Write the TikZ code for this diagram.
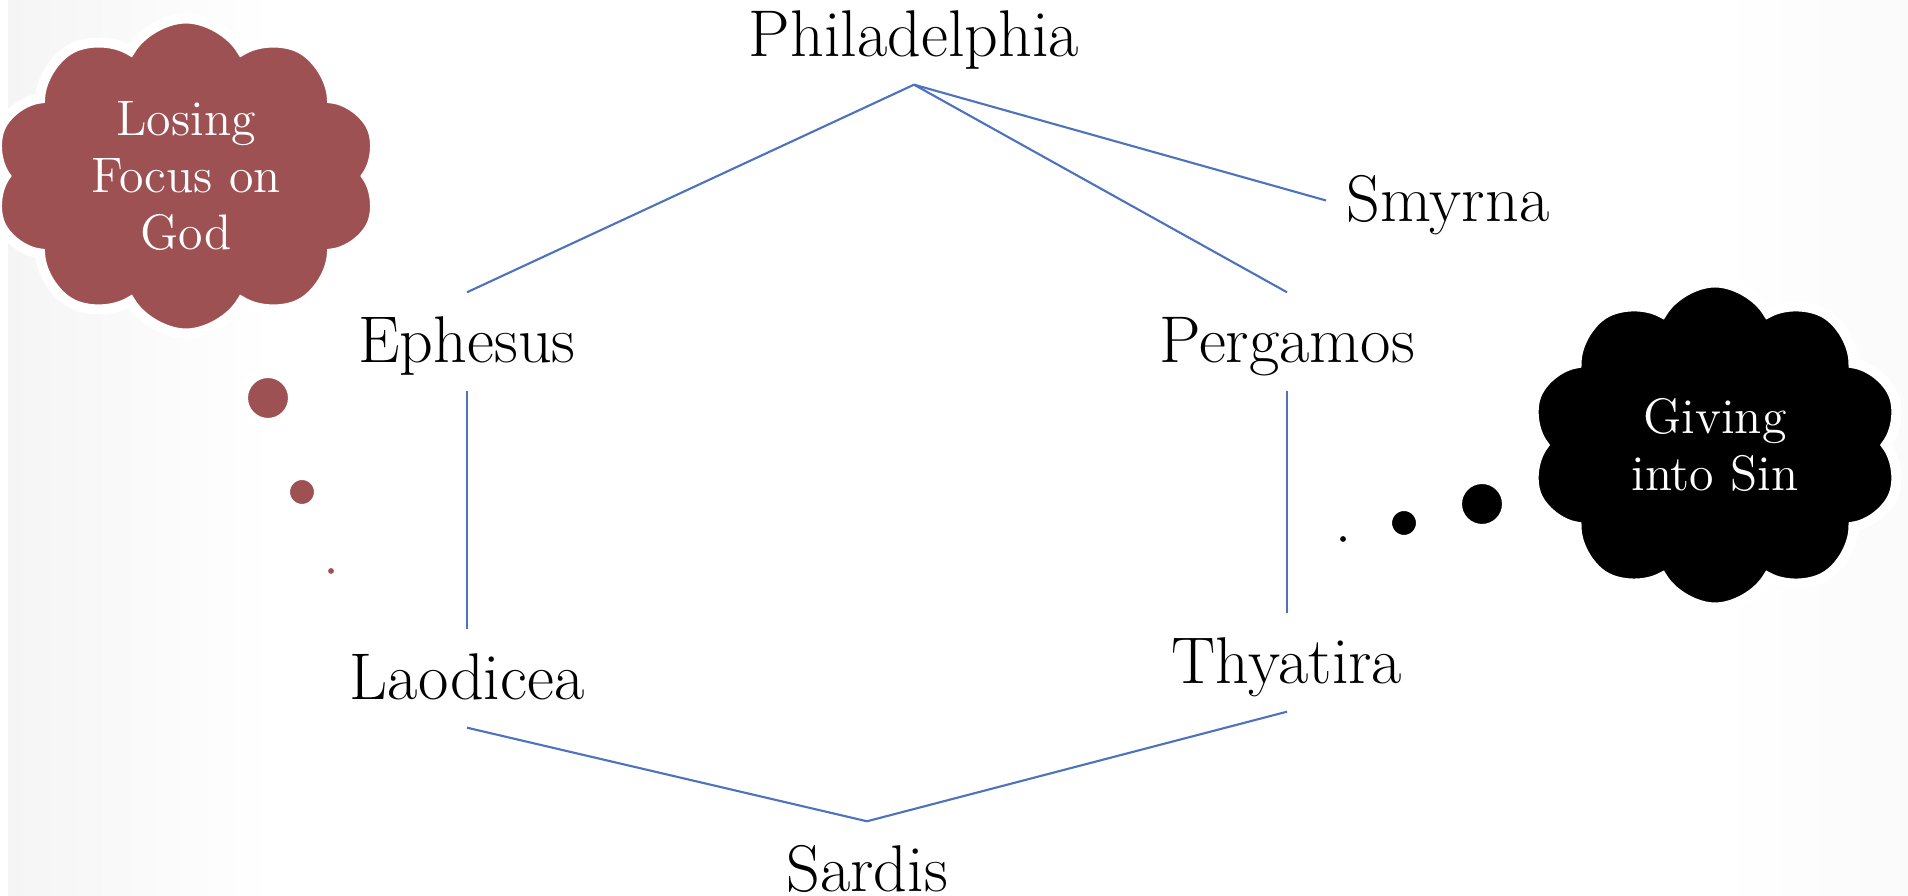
\documentclass[tikz,border=0pt]{standalone}
\usepackage{tikz}
\usetikzlibrary{positioning,shapes.symbols}
\definecolor{linkblue}{RGB}{78,114,190}
\definecolor{wine}{RGB}{158,81,83}
\pgfdeclarehorizontalshading{slide}{100bp}{color(0bp)=(black!18); color(32bp)=(white); color(70bp)=(white); color(100bp)=(black!11)}
\tikzstyle{city} = [font=\fontsize{18.8}{22}\selectfont, text height=0.5cm, text depth=0.07cm, inner ysep=0.2cm, inner xsep=0.2cm]
\tikzstyle{link} = [draw=linkblue, line width=0.6pt]
\tikzstyle{thought} = [cloud, cloud puffs=10, cloud puff arc=120, cloud ignores aspect, draw=white, line width=0.1cm, inner sep=0pt, text=white, align=center, font=\fontsize{14.2}{16.2}\selectfont]
\tikzstyle{bubble} = [circle, draw=white, line width=0.1cm, inner sep=0pt]

\begin{document}
\begin{tikzpicture}[auto, node distance=2cm]
	\fill [white] (0,0) rectangle (19.08,8.96);
	\shade [shading=slide] (0.08,0) rectangle (19.08,8.96);
	\useasboundingbox (0,0) rectangle (19.08,8.96);
	%
	\node (phil) [city, anchor=base] at (9.14,8.39) {Philadelphia};
	\node (smy) [city, anchor=base] at (14.48,6.74) {Smyrna};
	%
	\node (eph) [city, anchor=base] at (4.67,5.33) {Ephesus};
	\node (perg) [city, right of=eph, node distance=8.2cm] {Pergamos};
	%
	\node (laod) [city, below of=eph, node distance=3.37cm] {Laodicea};
	\node (thy) [city, below of=perg, node distance=3.21cm] {Thyatira};
	%
	\node (sard) [city, anchor=base] at (8.67,0.04) {Sardis};
	%
	\draw [link] (phil.south) -- (eph.north);
	\draw [link] (phil.south) -- (perg.north);
	\draw [link] (phil.south) -- (smy.west);
	%
	\draw [link] (eph.south) -- (laod.north);
	\draw [link] (perg.south) -- (thy.north);
	%
	\draw [link] (laod.south) -- (sard.north);
	\draw [link] (sard.north) -- (thy.south);
	%
	\node (lose) [thought, fill=wine, minimum width=3.9cm, minimum height=3.15cm] at (1.86,7.20) {Losing\\Focus on\\God};
	\node (lose1) [bubble, fill=wine, minimum size=0.50cm] at (2.68,4.98) {};
	\node (lose2) [bubble, fill=wine, minimum size=0.34cm] at (3.02,4.04) {};
	\node (lose3) [bubble, fill=wine, minimum size=0.16cm] at (3.31,3.25) {};
	%
	\node (sin) [thought, fill=black, minimum width=3.75cm, minimum height=3.25cm] at (17.15,4.51) {Giving\\into Sin};
	\node (sin1) [bubble, fill=black, minimum size=0.50cm] at (14.82,3.92) {};
	\node (sin2) [bubble, fill=black, minimum size=0.34cm] at (14.04,3.73) {};
	\node (sin3) [bubble, fill=black, minimum size=0.16cm] at (13.43,3.57) {};
\end{tikzpicture}
\end{document}
